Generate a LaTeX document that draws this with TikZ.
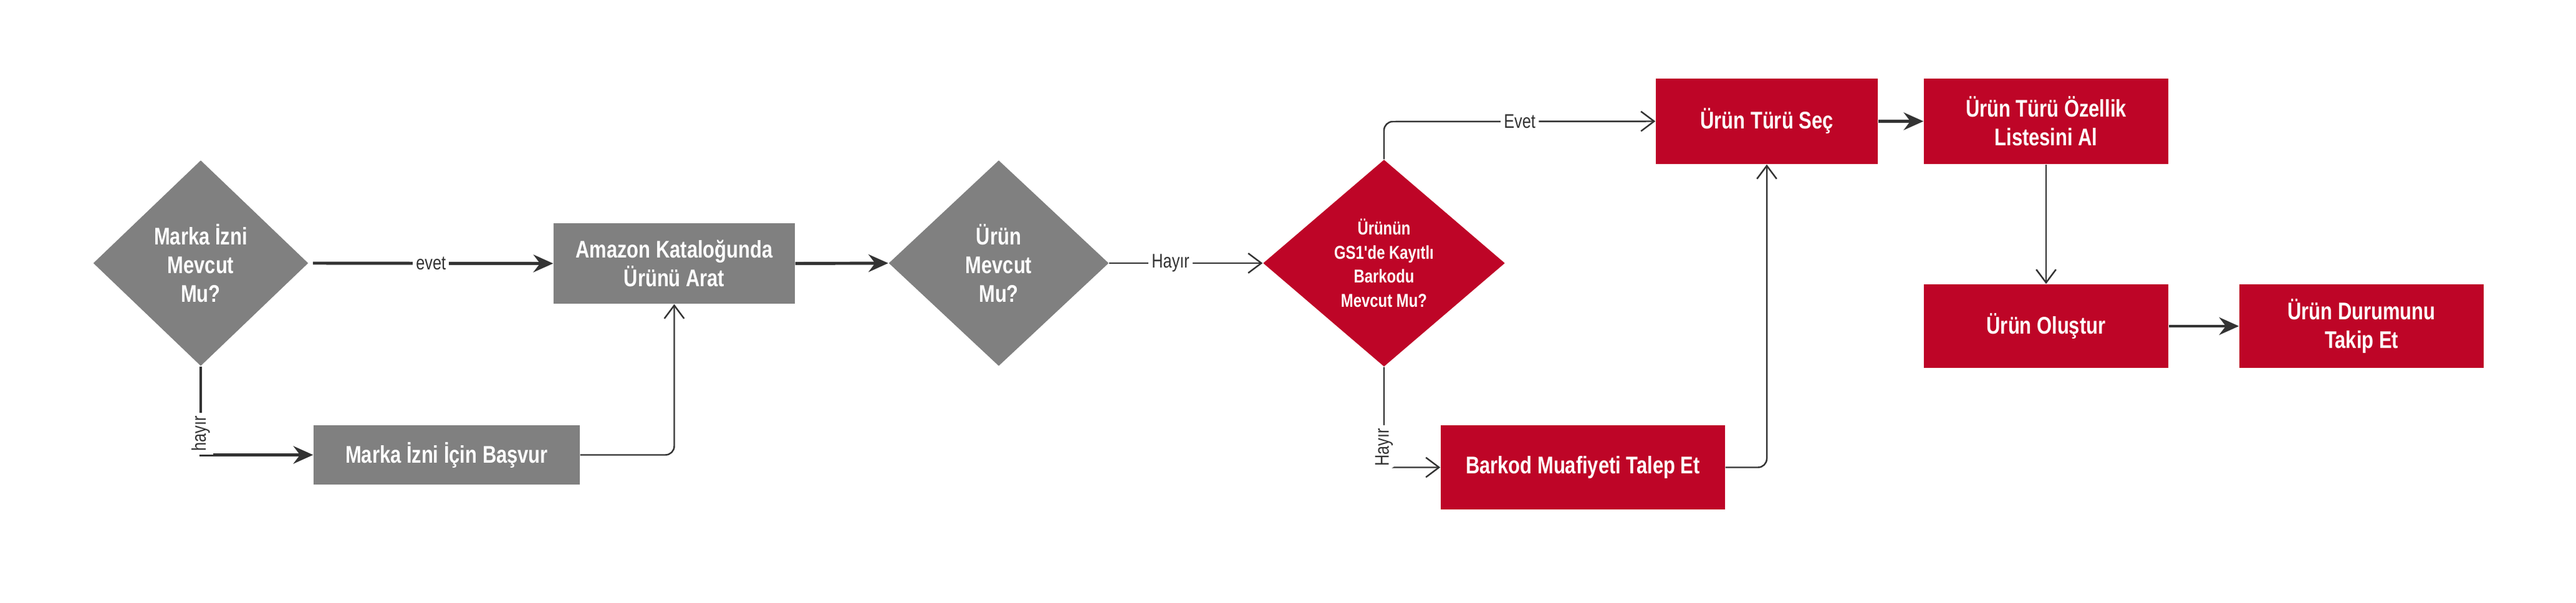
\documentclass[tikz,border=0pt]{standalone}
\usepackage{fontspec}
\setmainfont{Liberation Sans}
\newfontfamily\condfont[FakeStretch=0.8]{Liberation Sans}
\usetikzlibrary{arrows.meta,shapes.geometric}
\definecolor{boxgray}{HTML}{808080}
\definecolor{boxred}{HTML}{BE0527}
\definecolor{linegray}{HTML}{333333}

\begin{document}
\begin{tikzpicture}
  [
    x=1cm,y=1cm,
    box/.style={rectangle, text=white, align=center, inner sep=0pt,
      font=\condfont\bfseries\fontsize{11}{13}\selectfont},
    graybox/.style={box, fill=boxgray},
    redbox/.style={box, fill=boxred},
    ask/.style={diamond, text=white, align=center, inner sep=0pt,
      font=\condfont\bfseries\fontsize{11}{13}\selectfont},
    thickarrow/.style={draw=linegray, line width=1.4pt, -{Stealth[length=9pt,width=8pt,inset=3pt]}},
    thinarrow/.style={draw=linegray, line width=0.7pt, rounded corners=4pt, -{Straight Barb[length=6pt,width=9pt]}},
    lbl/.style={fill=white, text=linegray, inner sep=1.5pt,
      font=\condfont\fontsize{9}{10}\selectfont}
    ]
  \useasboundingbox (0,0) rectangle (41.32,-9.67);

  \node[ask, fill=boxgray, minimum width=3.45cm, minimum height=3.3cm] (izin) at (3.22,-4.22) {Marka İzni\\Mevcut\\Mu?};
  \node[graybox, minimum width=3.87cm, minimum height=1.29cm] (arat) at (10.815,-4.225) {Amazon Kataloğunda\\Ürünü Arat};
  \node[graybox, minimum width=4.27cm, minimum height=0.95cm] (basvur) at (7.165,-7.295) {Marka İzni İçin Başvur};
  \node[ask, fill=boxgray, minimum width=3.53cm, minimum height=3.3cm] (mevcut) at (16.02,-4.22) {Ürün\\Mevcut\\Mu?};
  \node[ask, fill=boxred, minimum width=3.88cm, minimum height=3.32cm,
    font=\condfont\bfseries\fontsize{8.5}{11}\selectfont] (gs1) at (22.2,-4.22) {Ürünün\\GS1'de Kayıtlı\\Barkodu\\Mevcut Mu?};
  \node[redbox, minimum width=4.56cm, minimum height=1.35cm] (muaf) at (25.39,-7.495) {Barkod Muafiyeti Talep Et};
  \node[redbox, minimum width=3.56cm, minimum height=1.37cm] (tur) at (28.34,-1.945) {Ürün Türü Seç};
  \node[redbox, minimum width=3.92cm, minimum height=1.37cm] (liste) at (32.82,-1.945) {Ürün Türü Özellik\\Listesini Al};
  \node[redbox, minimum width=3.92cm, minimum height=1.34cm] (olustur) at (32.82,-5.23) {Ürün Oluştur};
  \node[redbox, minimum width=3.92cm, minimum height=1.34cm] (takip) at (37.88,-5.23) {Ürün Durumunu\\Takip Et};

  \coordinate (gs1up) at (22.2,-1.95);

  % left part
  \draw[thickarrow, shorten <=2pt] (izin.east) -- node[lbl] {evet} (arat.west);
  \draw[thickarrow] (izin.south) |- node[lbl, rotate=90, pos=0.38] {hayır} (basvur.west);
  \draw[thinarrow] (basvur.east) -| (arat.south);
  \draw[thickarrow] (arat.east) -- (mevcut.west);
  \draw[thinarrow] (mevcut.east) -- node[lbl, pos=0.4] {Hayır} (gs1.west);

  % right part
  \draw[thinarrow] (gs1.north) -- (gs1up) -- node[lbl, pos=0.5] {Evet} (tur.west);
  \draw[thinarrow] (gs1.south) |- node[lbl, rotate=90, pos=0.4] {Hayır} (muaf.west);
  \draw[thinarrow] (muaf.east) -| (tur.south);
  \draw[thickarrow] (tur.east) -- (liste.west);
  \draw[thinarrow] (liste.south) -- (olustur.north);
  \draw[thickarrow] (olustur.east) -- (takip.west);
\end{tikzpicture}
\end{document}
